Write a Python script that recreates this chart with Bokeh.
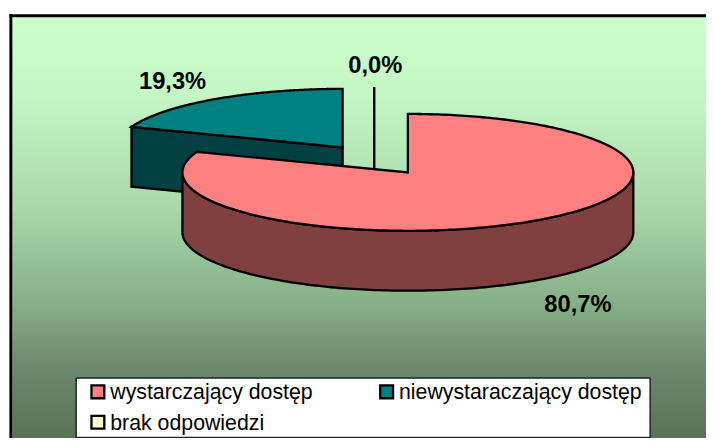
import numpy as np
from bokeh.plotting import figure
from bokeh.core.properties import value
from bokeh.embed import file_html
from bokeh.resources import INLINE

categories = ["wystarczający dostęp", "niewystaraczający dostęp", "brak odpowiedzi"]
shares = [80.7, 19.3, 0.0]
labels = ["80,7%", "19,3%", "0,0%"]
top_colors = ["#FF8080", "#008080", "#FFFFCC"]
side_colors = ["#804040", "#004040", "#808066"]

RX, RY, DEPTH = 228, 59.5, 61
CENTERS = [(412, 175), (346, 149.5), (378, 147.5)]
LABEL_POS = [(584, 309.5), (174, 82), (379, 66)]
FONT = "Liberation Sans"

W, H = 706, 438
p = figure(width=W, height=H, x_range=(0, 714), y_range=(446, 0),
           output_backend="svg", toolbar_location=None, min_border=0,
           background_fill_color="white", border_fill_color="white")
p.xaxis.visible = False
p.yaxis.visible = False
p.grid.visible = False
p.outline_line_color = None

# background gradient and frame
stop_y = [17, 100, 215, 260, 310, 366, 446]
stop_r = [204, 196, 170, 152, 135, 112, 88]
stop_g = [255, 245, 215, 195, 175, 140, 115]
rows = np.arange(17, 446)
r = np.interp(rows, stop_y, stop_r).astype(np.uint32)
g = np.interp(rows, stop_y, stop_g).astype(np.uint32)
img = (255 << 24 | r << 16 | g << 8 | r).reshape(-1, 1).astype(np.uint32)
# image rows run bottom to top in data order; the inverted y axis puts row 0 at y=17
p.image_rgba(image=[img], x=12, y=17, dw=702, dh=429, origin="bottom_left", anchor="bottom_left")
p.quad(left=[9, 9], right=[12, 714], top=[14, 14], bottom=[446, 17], fill_color="black", line_color=None)


def rim(cx, cy, t0, t1, n=160):
    t = np.radians(np.linspace(t0, t1, n))
    return cx + RX * np.sin(t), cy - RY * np.cos(t)


# slice angles, clockwise from 12 o'clock
ends = np.cumsum(shares) / sum(shares) * 360
starts = np.concatenate([[0], ends[:-1]])
style = dict(line_color="black", line_width=2.3, line_join="miter")

# zero share: a single radial line with its cut face
cx, cy = CENTERS[2]
xr, yr = rim(cx, cy, starts[2], ends[2], 2)
p.line([xr[0], cx, cx], [yr[0], cy, cy + DEPTH], line_color="black", line_width=2.3)

# second slice (exploded backwards)
cx, cy = CENTERS[1]
xr, yr = rim(cx, cy, starts[1], ends[1])
p.patch([xr[0], cx, cx, xr[0]], [yr[0], cy, cy + DEPTH, yr[0] + DEPTH], fill_color=side_colors[1], **style)
p.patch(np.r_[cx, xr], np.r_[cy, yr], fill_color=top_colors[1], **style)

# first slice
cx, cy = CENTERS[0]
xs, ys = rim(cx, cy, 90, 270)
p.patch(np.r_[xs, xs[::-1]], np.r_[ys, ys[::-1] + DEPTH], fill_color=side_colors[0], **style)
xr, yr = rim(cx, cy, starts[0], ends[0], 300)
p.patch(np.r_[cx, xr], np.r_[cy, yr], fill_color=top_colors[0], **style)

# value labels
p.text(x=[q[0] for q in LABEL_POS], y=[q[1] for q in LABEL_POS], text=labels,
       text_font=value(FONT), text_font_style="bold", text_font_size="23.7px",
       text_color="black", text_align="center", text_baseline="middle")

# legend
p.quad(left=76.5, right=657, top=384.5, bottom=445, fill_color="white", line_color="#222222", line_width=1.5)
swatch_x = [92, 384, 92]
swatch_y = [392, 392, 423]
p.quad(left=swatch_x, right=[v + 13 for v in swatch_x], top=swatch_y, bottom=[v + 13 for v in swatch_y],
       fill_color=top_colors, line_color="black", line_width=2.3, line_join="miter")
p.text(x=[v + 19 for v in swatch_x], y=[v + 7 for v in swatch_y], text=categories,
       text_font=value(FONT), text_font_size="21.3px", text_color="black",
       text_align="left", text_baseline="middle")

open("out.html", "w").write(file_html(p, INLINE))
